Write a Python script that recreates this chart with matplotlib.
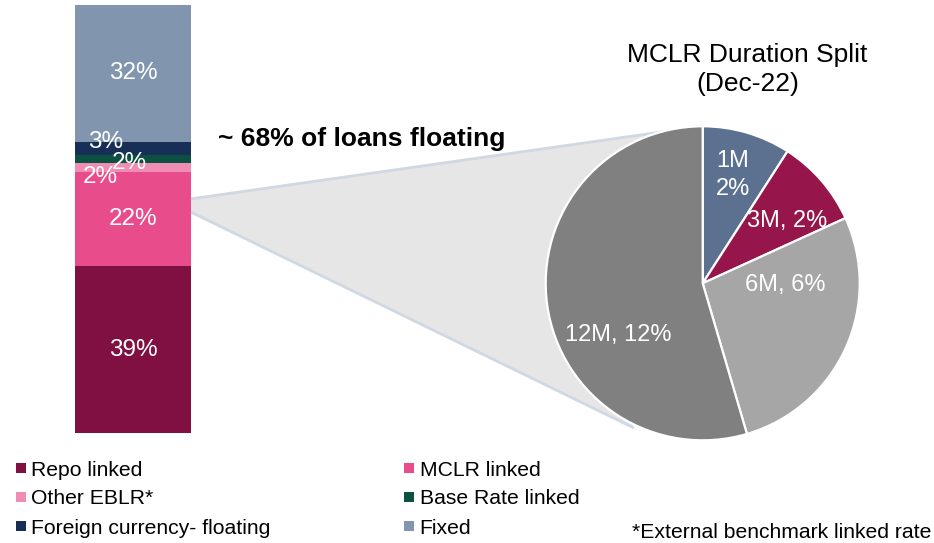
import numpy as np
import matplotlib
matplotlib.use("Agg")
import matplotlib.pyplot as plt
from matplotlib.patches import Polygon, Rectangle
from matplotlib.lines import Line2D

plt.rcParams['font.family'] = ['Liberation Sans', 'DejaVu Sans']

# ---- data ----
bar_categories = ["Repo linked", "MCLR linked", "Other EBLR*", "Base Rate linked",
                  "Foreign currency- floating", "Fixed"]
bar_values = [39, 22, 2, 2, 3, 32]
bar_colors = ["#7f1041", "#e84c8b", "#f08db5", "#0b5040", "#172f57", "#8196ae"]

pie_labels = ["1M\n2%", "3M, 2%", "6M, 6%", "12M, 12%"]
pie_values = [2, 2, 6, 12]
pie_colors = ["#5c7190", "#96154a", "#a6a6a6", "#808080"]

title_text = "MCLR Duration Split\n(Dec-22)"
callout_text = "~ 68% of loans floating"
footnote_text = "*External benchmark linked rate"

W, H = 934, 543
fig = plt.figure(figsize=(W / 100, H / 100), dpi=100)
fig.patch.set_facecolor("white")

def fx(px):
    return px / W

def fy(py):
    return 1 - py / H

# ---- stacked bar ----
ax_bar = fig.add_axes([fx(75), fy(433), 116 / W, 428 / H])
ax_bar.set_xlim(-0.5, 0.5)
ax_bar.set_ylim(0, 100)
ax_bar.axis("off")
bottoms = np.concatenate([[0], np.cumsum(bar_values)[:-1]])
ax_bar.bar([0] * len(bar_values), bar_values, bottom=bottoms, width=1.0,
           color=bar_colors, edgecolor="none")

# label positions (x offset in bar units, y in bar units or None for centre)
label_pos = [(0, None), (0, None), (-0.28, 59.9), (-0.03, 63.1), (-0.24, 68.1), (0, None)]
for v, b, (lx, ly) in zip(bar_values, bottoms, label_pos):
    y = b + v / 2 if ly is None else ly
    ax_bar.text(lx, y, f"{v}%", ha="center", va="center", color="white", fontsize=17.5)

# ---- pie ----
cx, cy, r = 702.7, 283.3, 157
ax_pie = fig.add_axes([fx(cx - r), fy(cy + r), 2 * r / W, 2 * r / H])
ax_pie.pie(pie_values, colors=pie_colors, startangle=90, counterclock=False,
           radius=1.0, wedgeprops=dict(edgecolor="white", linewidth=1.6))
ax_pie.set_xlim(-1, 1)
ax_pie.set_ylim(-1, 1)
ax_pie.axis("off")

pie_label_pos = [(0.19, 0.69), (0.535, 0.40), (0.524, -0.01), (-0.54, -0.33)]
for lab, (x, y) in zip(pie_labels, pie_label_pos):
    ax_pie.text(x, y, lab, ha="center", va="center", color="white", fontsize=17,
                linespacing=1.35)

# ---- connecting wedge ----
to_fig = fig.transFigure.inverted()
p1 = to_fig.transform(ax_bar.transData.transform((0.5, 54.7)))
p4 = to_fig.transform(ax_bar.transData.transform((0.5, 51.6)))
a_top, a_bot = np.deg2rad(90.5), np.deg2rad(244.0)
p2 = to_fig.transform(ax_pie.transData.transform((1.0 * np.cos(a_top), 1.0 * np.sin(a_top))))
p3 = to_fig.transform(ax_pie.transData.transform((1.02 * np.cos(a_bot), 1.02 * np.sin(a_bot))))
poly = Polygon([p1, p2, p3, p4], closed=True, transform=fig.transFigure,
               facecolor="#e6e6e6", edgecolor="none", zorder=-2)
fig.add_artist(poly)
for a, b in [(p1, p2), (p4, p3)]:
    fig.add_artist(Line2D([a[0], b[0]], [a[1], b[1]], transform=fig.transFigure,
                          color="#cfd8e3", linewidth=2, zorder=-1))

# ---- texts ----
fig.text(fx(747.5), fy(69.5), title_text, ha="center", va="center", fontsize=19,
         linespacing=1.3, color="#000000")
fig.text(fx(218), fy(145.7), callout_text, ha="left", va="baseline", fontsize=19,
         fontweight="bold", color="#000000")

# ---- legend ----
rows_y = [468, 496.5, 526]
cols_x = [16, 404]
for i, (cat, col) in enumerate(zip(bar_categories, bar_colors)):
    cxp = cols_x[i % 2]
    ryp = rows_y[i // 2]
    fig.add_artist(Rectangle((fx(cxp), fy(ryp + 5)), 10 / W, 10 / H,
                             transform=fig.transFigure, facecolor=col, edgecolor="none"))
    fig.text(fx(cxp + 15.5), fy(ryp + 7.5), cat, ha="left", va="baseline",
             fontsize=15.2, color="#000000")

fig.text(fx(632), fy(537.5), footnote_text, ha="left", va="baseline", fontsize=15.2,
         color="#000000")

fig.savefig("out.png", dpi=100, facecolor="white")
